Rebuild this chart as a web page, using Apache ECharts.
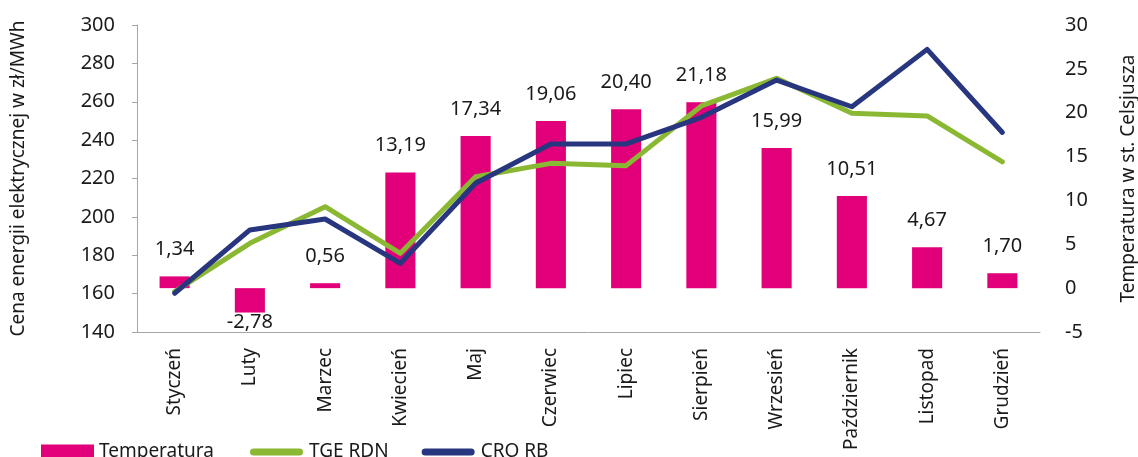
<!DOCTYPE html>
<html>
<head>
<meta charset="utf-8">
<script src="https://cdn.jsdelivr.net/npm/echarts@6/dist/echarts.min.js"></script>
<style>
  html, body { margin: 0; padding: 0; background: #fff; }
  #chart { width: 1138px; height: 457px; }
</style>
</head>
<body>
<div id="chart"></div>
<script>
// miesiące
const months = ['Styczeń', 'Luty', 'Marzec', 'Kwiecień', 'Maj', 'Czerwiec',
  'Lipiec', 'Sierpień', 'Wrzesień', 'Październik', 'Listopad', 'Grudzień']
// temperatura (st. C)
const temperatura = [1.34, -2.78, 0.56, 13.19, 17.34, 19.06, 20.40, 21.18, 15.99, 10.51, 4.67, 1.70]
// ceny zł/MWh
const tgeRdn = [161, 186.2, 205.3, 181, 220.9, 227.9, 226.7, 257.8, 272.2, 254, 252.6, 228.7]
const croRb = [160.2, 193.2, 198.9, 175.8, 217.5, 238, 238, 251.9, 271.3, 257.4, 287.3, 244]

const font = 'Noto Sans'
const textColor = '#1a1a1a'
const axisGray = '#a6a6a6'
const pink = '#e2007a'
const green = '#8ab833'
const navy = '#28367f'
// stadium shape for the line legend icons
const lineIcon = 'path://M3.5,0 L49.5,0 A3.5,3.5,0,0,1,49.5,7 L3.5,7 A3.5,3.5,0,0,1,3.5,0 Z'

const chart = echarts.init(document.getElementById('chart'))

const barData = temperatura.map(v => ({
  value: v,
  label: v < 0 ? { position: 'bottom', distance: 0 } : { position: 'top', distance: 17 }
}))

const legendText = { fontSize: 19, color: textColor, fontFamily: font, lineHeight: 22 }

const option = {
  animation: false,
  textStyle: { fontFamily: font, color: textColor },
  legend: [
    {
      left: 41,
      top: 441,
      padding: 0,
      itemWidth: 53,
      itemHeight: 15,
      textStyle: legendText,
      data: [{ name: 'Temperatura', icon: 'rect' }]
    },
    {
      left: 250,
      top: 441,
      padding: 0,
      itemWidth: 55,
      itemHeight: 7,
      itemGap: 33,
      textStyle: legendText,
      data: [
        { name: 'TGE RDN', icon: lineIcon },
        { name: 'CRO RB', icon: lineIcon }
      ]
    }
  ],
  grid: {
    left: 137,
    right: 98,
    top: 25,
    bottom: 125,
    outerBoundsMode: 'none'
  },
  xAxis: {
    type: 'category',
    data: months,
    axisLine: { onZero: false, lineStyle: { color: axisGray, width: 1 } },
    axisTick: { alignWithLabel: true, length: 6, lineStyle: { color: axisGray } },
    axisLabel: {
      rotate: 90,
      margin: 16,
      fontSize: 19,
      color: textColor,
      fontFamily: font
    }
  },
  yAxis: [
    {
      type: 'value',
      min: 140,
      max: 300,
      interval: 20,
      name: 'Cena energii elektrycznej w zł/MWh',
      nameLocation: 'middle',
      nameRotate: 90,
      nameGap: 109,
      nameTextStyle: { fontSize: 19, color: textColor, fontFamily: font },
      axisLine: { show: true, lineStyle: { color: axisGray } },
      axisTick: { show: true, length: 5, lineStyle: { color: axisGray } },
      splitLine: { show: false },
      axisLabel: { fontSize: 20, margin: 22, color: textColor, fontFamily: font }
    },
    {
      type: 'value',
      min: -5,
      max: 30,
      interval: 5,
      position: 'right',
      name: 'Temperatura w st. Celsjusza',
      nameLocation: 'middle',
      nameRotate: 90,
      nameGap: 79,
      nameTextStyle: { fontSize: 19, color: textColor, fontFamily: font },
      axisLine: { show: false },
      axisTick: { show: false },
      splitLine: { show: false },
      axisLabel: { fontSize: 20, margin: 25, color: textColor, fontFamily: font }
    }
  ],
  series: [
    {
      name: 'Temperatura',
      type: 'bar',
      yAxisIndex: 1,
      barWidth: '40%',
      itemStyle: { color: pink },
      label: {
        show: true,
        fontSize: 20,
        color: textColor,
        fontFamily: font,
        formatter: p => p.value.toFixed(2).replace('.', ',')
      },
      data: barData
    },
    {
      name: 'TGE RDN',
      type: 'line',
      yAxisIndex: 0,
      symbol: 'none',
      itemStyle: { color: green },
      lineStyle: { color: green, width: 5, cap: 'round', join: 'round' },
      data: tgeRdn
    },
    {
      name: 'CRO RB',
      type: 'line',
      yAxisIndex: 0,
      symbol: 'none',
      itemStyle: { color: navy },
      lineStyle: { color: navy, width: 5, cap: 'round', join: 'round' },
      data: croRb
    }
  ]
}

chart.setOption(option)
</script>
</body>
</html>
